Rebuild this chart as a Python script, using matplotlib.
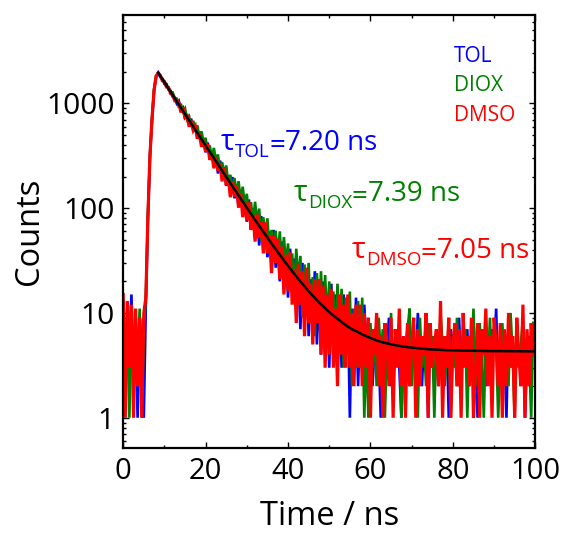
import numpy as np
import matplotlib
matplotlib.use("Agg")
import matplotlib.pyplot as plt
from matplotlib.ticker import MultipleLocator, LogLocator, FixedLocator, FixedFormatter, NullFormatter
from matplotlib.transforms import IdentityTransform

plt.rcParams['font.family'] = ['Open Sans', 'DejaVu Sans']

# ---------------- data (counts per 0.5 ns channel) ----------------
channel_width_ns = 0.5

tol_counts = [
    8, 3, 11, 4, 15, 2, 6, 1, 9, 5, 1, 12, 80, 310, 700, 1340, 1810,
    1960, 1779, 1725, 1533, 1531, 1349, 1322, 1158, 1132, 996,
    1054, 875, 911, 720, 780, 640, 714, 544, 584, 462,
    539, 408, 450, 341, 422, 316, 355, 257, 293, 214,
    284, 211, 245, 163, 207, 149, 198, 124, 154, 102,
    150, 93, 121, 74, 121, 74, 100, 56, 79, 44,
    84, 51, 72, 34, 60, 34, 62, 27, 45, 20,
    48, 20, 37, 14, 41, 18, 33, 11, 25, 7,
    30, 13, 26, 6, 21, 8, 25, 5, 16, 4,
    20, 4, 15, 3, 19, 5, 15, 3, 11, 3,
    15, 5, 13, 1, 11, 3, 14, 2, 9, 3,
    12,
    5, 3, 7, 2, 5, 8, 4, 1, 6, 3,
    5, 9, 2, 5, 4, 7, 3, 1, 6, 4,
    8, 2, 5, 6, 3, 10, 4, 2, 6, 5,
    1, 7, 3, 6, 4, 2, 8, 5, 3, 6,
    1, 7, 4, 5, 2, 9, 3, 6, 4, 7,
    2, 5, 8, 3, 1, 6, 4, 7, 2, 5,
    3, 7, 4, 11, 2, 6, 3, 5, 1, 8,
    4, 6, 2, 7, 3, 5, 6, 1, 4, 6,
    3, 8,
]

diox_counts = [
    13, 2, 7, 1, 10, 4, 8, 3, 11, 1, 6, 15, 90, 330, 730, 1360, 1830,
    1945, 1841, 1685, 1638, 1445, 1425, 1272, 1273, 1127, 1109,
    912, 989, 835, 893, 703, 749, 601, 681, 548, 615,
    471, 540, 425, 468, 343, 396, 306, 375, 286, 325,
    219, 275, 211, 255, 171, 208, 143, 194, 137, 181,
    116, 160, 108, 137, 79, 114, 73, 115, 74, 99,
    49, 82, 53, 80, 39, 62, 31, 61, 34, 60,
    27, 53, 28, 46, 17, 37, 17, 41, 20, 35,
    9, 29, 14, 30, 8, 22, 6, 24, 9, 25,
    7, 23, 8, 20, 6, 16, 5, 19, 7, 17,
    3, 14, 5, 16, 2, 11, 3, 13, 3, 14,
    1,
    5, 1, 8, 3, 6, 2, 9, 4, 7, 1,
    5, 3, 10, 2, 6, 4, 8, 1, 5, 3,
    7, 11, 2, 6, 4, 1, 9, 3, 5, 2,
    8, 4, 6, 1, 7, 3, 10, 5, 2, 4,
    8, 1, 6, 3, 9, 2, 5, 4, 7, 1,
    6, 3, 11, 2, 5, 8, 4, 1, 6, 3,
    9, 2, 7, 5, 1, 4, 8, 3, 6, 2,
    10, 4, 1, 7, 3, 5, 9, 2, 6, 4,
    1, 8,
]

dmso_counts = [
    15, 1, 13, 3, 12, 1, 11, 2, 9, 1, 10, 14, 85, 320, 720, 1350, 1820,
    1951, 1848, 1641, 1610, 1431, 1416, 1235, 1204, 1059, 1067,
    1015, 818, 916, 728, 757, 597, 681, 554, 604, 459,
    518, 384, 439, 344, 406, 289, 327, 240, 307, 228,
    261, 180, 244, 166, 193, 127, 180, 129, 164, 101,
    139, 82, 116, 76, 114, 62, 86, 48, 87, 52,
    73, 37, 73, 37, 54, 24, 54, 30, 51, 21,
    43, 15, 36, 16, 38, 12, 26, 8, 30, 12,
    25, 6, 27, 8, 19, 5, 21, 8, 21, 4,
    18, 3, 15, 4, 17, 3, 11, 2, 15, 4,
    12, 3, 15, 3, 10, 2, 12, 3, 12, 2,
    10,
    3, 9, 1, 7, 4, 10, 2, 6, 1, 8,
    5, 2, 9, 1, 7, 3, 11, 2, 6, 1,
    8, 2, 5, 9, 1, 7, 2, 6, 4, 10,
    1, 8, 3, 5, 7, 2, 13, 1, 6, 3,
    9, 1, 5, 8, 2, 7, 1, 10, 3, 6,
    2, 9, 1, 3, 8, 1, 7, 4, 11, 2,
    6, 1, 9, 5, 2, 8, 1, 7, 2, 10,
    3, 6, 1, 9, 4, 2, 12, 1, 7, 2,
    8, 4,
]

fit_time = [8.5, 9.5, 10.5, 11.5, 12.5, 13.5, 14.5, 15.5, 16.5, 17.5,
            18.5, 19.5, 20.5, 21.5, 22.5, 23.5, 24.5, 25.5, 26.5, 27.5,
            28.5, 29.5, 30.5, 31.5, 32.5, 33.5, 34.5, 35.5, 36.5, 37.5,
            38.5, 39.5, 40.5, 41.5, 42.5, 43.5, 44.5, 45.5, 46.5, 47.5,
            48.5, 49.5, 50.5, 51.5, 52.5, 53.5, 54.5, 55.5, 56.5, 57.5,
            58.5, 60.5, 62.5, 64.5, 66.5, 68.5, 73.5, 78.5, 88.5, 100.0]
fit_counts = [1954.3, 1699.8, 1478.5, 1286.1, 1118.8, 973.3, 846.8, 736.9, 641.3, 558.1,
              485.8, 423.0, 368.3, 320.8, 279.5, 243.6, 212.4, 185.2, 161.6, 141.1,
              123.2, 107.7, 94.2, 82.5, 72.3, 63.4, 55.7, 49.0, 43.2, 38.1,
              33.7, 29.8, 26.5, 23.6, 21.1, 18.9, 17.0, 15.3, 13.9, 12.6,
              11.6, 10.6, 9.8, 9.1, 8.5, 7.9, 7.4, 7.0, 6.7, 6.4,
              6.1, 5.65, 5.3, 5.07, 4.88, 4.74, 4.52, 4.41, 4.33, 4.30]

series_names = ["TOL", "DIOX", "DMSO"]
series_colors = ["#0000FF", "#008000", "#FF0000"]
series_lw = [1.9, 1.9, 2.3]
lifetimes = ["7.20", "7.39", "7.05"]

x_ticks = [0, 20, 40, 60, 80, 100]
y_ticks = [1, 10, 100, 1000]
y_tick_labels = ["1", "10", "100", "1000"]

# ---------------- figure ----------------
W, H = 565, 534
fig = plt.figure(figsize=(W / 100, H / 100), dpi=100)
ax_l, ax_r, ax_t, ax_b = 123.2, 535.3, 15.0, 448.3
ax = fig.add_axes([ax_l / W, 1 - ax_b / H, (ax_r - ax_l) / W, (ax_b - ax_t) / H])

for vals, col, lw in zip([tol_counts, diox_counts, dmso_counts], series_colors, series_lw):
    t = channel_width_ns * np.arange(len(vals))
    ax.plot(t, vals, color=col, lw=lw, solid_joinstyle='miter')
ax.plot(fit_time, fit_counts, color='black', lw=1.8)

ax.set_yscale('log')
ax.set_xlim(0, 100)
ax.set_ylim(0.511, 6960)

ax.xaxis.set_major_locator(FixedLocator(x_ticks))
ax.xaxis.set_minor_locator(MultipleLocator(10))
ax.yaxis.set_major_locator(FixedLocator(y_ticks))
ax.yaxis.set_major_formatter(FixedFormatter(y_tick_labels))
ax.yaxis.set_minor_locator(LogLocator(base=10, subs=np.arange(2, 10)))
ax.yaxis.set_minor_formatter(NullFormatter())

ax.tick_params(which='both', direction='in', top=True, right=True, width=1.0)
ax.tick_params(which='major', length=4.5)
ax.tick_params(which='minor', length=2.4)
ax.tick_params(axis='x', which='major', labelsize=21, pad=6.3)
ax.tick_params(axis='y', which='major', labelsize=21.5, pad=6.1)
for sp in ax.spines.values():
    sp.set_linewidth(1.6)

fig.text(29 / W, 1 - 231.6 / H, "Counts", rotation=90, ha='center', va='center', fontsize=23.5)
fig.text(330 / W, 9 / H, "Time / ns", ha='center', va='baseline', fontsize=23.5)

# legend-like labels
leg_base = [61.7, 90.7, 120.7]
for name, col, yb in zip(series_names, series_colors, leg_base):
    fig.text(454, H - yb, name, color=col, fontsize=15, ha='left', va='baseline',
             transform=IdentityTransform())

# lifetime annotations
renderer = fig.canvas.get_renderer()


def chain(x_px, base_px, parts, color):
    x = x_px
    for s, fs, dy in parts:
        txt = fig.text(x, H - (base_px + dy), s, fontsize=fs, color=color,
                       ha='left', va='baseline', transform=IdentityTransform())
        bb = txt.get_window_extent(renderer)
        x = bb.x1


tau_pos = [(221, 150.0), (294, 201.0), (352, 257.7)]
for name, col, tau, (xp, yb) in zip(series_names, series_colors, lifetimes, tau_pos):
    chain(xp, yb, [("τ", 21, 0), (name, 13.5, 7), ("=", 20, 3), (tau + " ns", 20, 0)], col)

fig.savefig("out.png", dpi=100)
